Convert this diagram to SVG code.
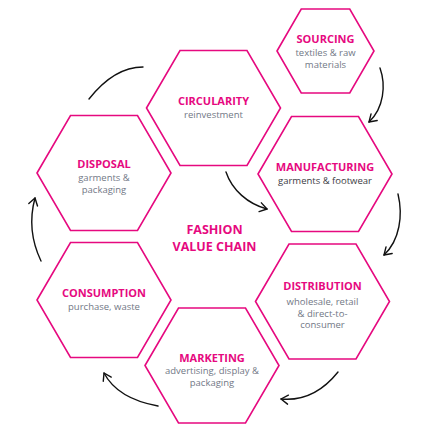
<svg xmlns="http://www.w3.org/2000/svg" xmlns:xlink="http://www.w3.org/1999/xlink" width="433" height="434" viewBox="0 0 433 434">
<style>
.hex{fill:#ffffff;stroke:#e6097f;stroke-width:1.6}
.t{font-family:"Open Sans","Noto Sans",sans-serif;font-weight:700;font-size:11px;fill:#e6097f;text-anchor:middle}
.s{font-family:"Open Sans","Noto Sans",sans-serif;font-size:9.5px;fill:#727886;text-anchor:middle}
.c{font-family:"Open Sans","Noto Sans",sans-serif;font-weight:700;font-size:12.5px;fill:#e6097f;text-anchor:middle}
.a{fill:none;stroke:#111;stroke-width:1.4;stroke-linecap:round}
</style>
<defs>
<polygon id="hexL" points="-67,0 -33.5,-57.5 33.5,-57.5 67,0 33.5,57.5 -33.5,57.5"/>
<polygon id="hexS" points="-48.5,0 -24.25,-42 24.25,-42 48.5,0 24.25,42 -24.25,42"/>
<marker id="ah" markerUnits="userSpaceOnUse" markerWidth="12" markerHeight="12" refX="0" refY="0" viewBox="-9 -6 12 12" orient="auto">
<path d="M-7,-4.5 L0,0 L-7,4.5" fill="none" stroke="#111" stroke-width="1.4" stroke-linecap="round" stroke-linejoin="round"/>
</marker>
</defs>
<rect width="433" height="434" fill="#ffffff"/>
<g id="connectors">
<path class="a" d="M380,68 C386,85 384,108 369,122" marker-end="url(#ah)"/>
<path class="a" d="M226,172 C232,190 248,204 267,209" marker-end="url(#ah)"/>
<path class="a" d="M398,194 C403,215 400,240 384,255" marker-end="url(#ah)"/>
<path class="a" d="M338,372 C322,392 302,401 281,399" marker-end="url(#ah)"/>
<path class="a" d="M158,406 C136,402 114,392 104,373" marker-end="url(#ah)"/>
<path class="a" d="M41,261 C31,240 29,220 35,198" marker-end="url(#ah)"/>
<path class="a" d="M89,99 C104,80 122,67 143,67"/>
</g>
<g id="sourcing">
<use href="#hexS" xlink:href="#hexS" class="hex" x="325.5" y="51"/>
<text class="t" x="325.5" y="43">SOURCING</text>
<text class="s" x="325.5" y="55.5">textiles &amp; raw</text>
<text class="s" x="325.5" y="67.5">materials</text>
</g>
<g id="circularity">
<use href="#hexL" xlink:href="#hexL" class="hex" x="213.5" y="108"/>
<text class="t" x="213.5" y="105">CIRCULARITY</text>
<text class="s" x="213.5" y="117.5">reinvestment</text>
</g>
<g id="manufacturing">
<use href="#hexL" xlink:href="#hexL" class="hex" x="325" y="174"/>
<text class="t" x="325" y="171">MANUFACTURING</text>
<text class="s" x="325" y="184" style="fill:#3c3c44">garments &amp; footwear</text>
</g>
<g id="disposal">
<use href="#hexL" xlink:href="#hexL" class="hex" x="104" y="173"/>
<text class="t" x="104" y="168">DISPOSAL</text>
<text class="s" x="104" y="180.5">garments &amp;</text>
<text class="s" x="104" y="192.5">packaging</text>
</g>
<g id="distribution">
<use href="#hexL" xlink:href="#hexL" class="hex" x="322.5" y="301.5"/>
<text class="t" x="322.5" y="290">DISTRIBUTION</text>
<text class="s" x="322.5" y="305">wholesale, retail</text>
<text class="s" x="322.5" y="316.5">&amp; direct-to-</text>
<text class="s" x="322.5" y="328">consumer</text>
</g>
<g id="consumption">
<use href="#hexL" xlink:href="#hexL" class="hex" x="104" y="300"/>
<text class="t" x="104" y="297">CONSUMPTION</text>
<text class="s" x="104" y="309.5">purchase, waste</text>
</g>
<g id="marketing">
<use href="#hexL" xlink:href="#hexL" class="hex" x="212" y="365.5"/>
<text class="t" x="212" y="362">MARKETING</text>
<text class="s" x="212" y="374">advertising, display &amp;</text>
<text class="s" x="212" y="385.5">packaging</text>
</g>
<g id="center">
<text class="c" x="214.5" y="234">FASHION</text>
<text class="c" x="214.5" y="250.5">VALUE CHAIN</text>
</g>
</svg>
